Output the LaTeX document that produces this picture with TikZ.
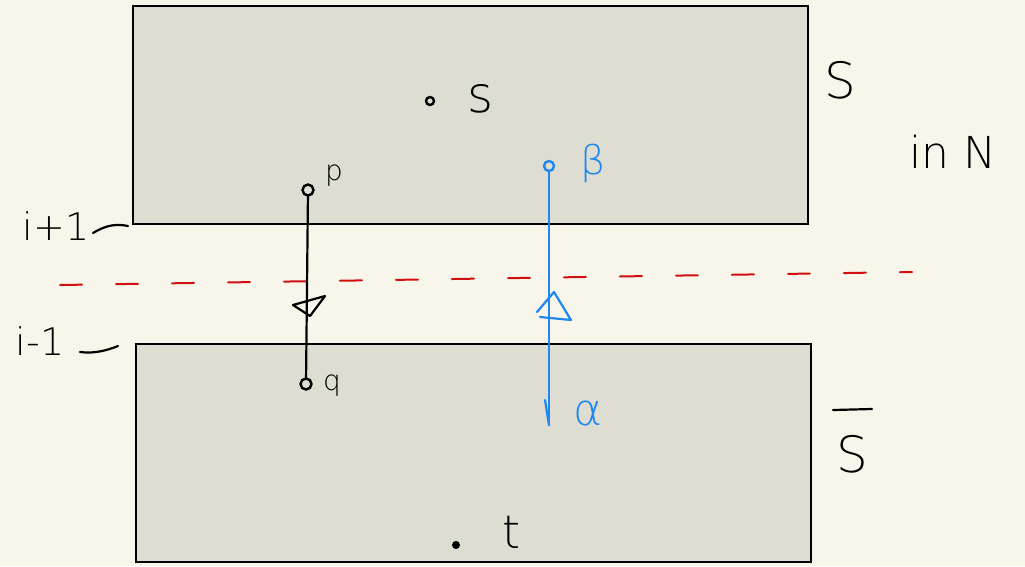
\documentclass[tikz,border=0pt]{standalone}
\usepackage{fontspec}
\setmainfont{DejaVu Sans}
\newfontfamily\lbl{DejaVu Sans ExtraLight}
\begin{document}
\begin{tikzpicture}[x=1pt,y=-1pt,
  box/.style={draw=black, line width=2pt, fill=boxgray},
  hand/.style={font=\lbl\fontsize{38}{38}\selectfont, inner sep=0pt, text=black},
  handb/.style={hand, text=blueline},
  pt/.style={circle, draw=black, line width=2.4pt, minimum size=11pt, inner sep=0pt},
  bpt/.style={circle, draw=blueline, line width=2.4pt, minimum size=10pt, inner sep=0pt},
  stroke/.style={line width=2.2pt, line cap=round, line join=round}]
\definecolor{bg}{HTML}{F8F6EA}
\definecolor{boxgray}{HTML}{DDDDD2}
\definecolor{blueline}{HTML}{1E88F0}
\definecolor{redline}{HTML}{D01010}
\useasboundingbox[fill=bg] (0,0) rectangle (1025,566);
% boxes
\draw[box] (133,6) rectangle (808,224);
\draw[box] (136,344) rectangle (811,562);
% red dashed separator
\coordinate (r1) at (60,285);
\coordinate (r2) at (912,272);
\draw[redline, line width=2pt, dash pattern=on 22pt off 34pt, line cap=round] (r1) -- (r2);
% points
\node[pt, minimum size=8pt] (s) at (430,101) {};
\node[hand, font=\lbl\fontsize{50}{50}\selectfont] (slab) at (481,99) {s};
\node[pt] (p) at (308,190) {};
\node[hand, font=\lbl\fontsize{28}{28}\selectfont] (plab) at (334,176) {p};
\node[pt] (q) at (306,384) {};
\node[hand, font=\lbl\fontsize{28}{28}\selectfont] (qlab) at (332,386) {q};
\node[circle, fill=black, minimum size=8pt, inner sep=0pt] (t) at (456,545) {};
\node[hand, font=\lbl\fontsize{46}{46}\selectfont] (tlab) at (512,532) {t};
% black path with triangle
\draw[stroke] (p) -- (q);
\draw[stroke] (293,305) -- (325,296) -- (310,316) -- cycle;
% blue path
\node[bpt] (a) at (549,166) {};
\coordinate (bend) at (549,425);
\draw[stroke, blueline] (a) -- (bend);
\draw[stroke, blueline] (554,292) -- (537,312);
\draw[stroke, blueline] (554,292) -- (571,320) -- (540,317);
\draw[stroke, blueline] (545,400) -- (549,425);
\node[handb] (beta) at (593,163) {\fontsize{40}{40}\selectfont β};
\node[handb] (alpha) at (588,413) {\fontsize{44}{44}\selectfont α};
% right labels
\node[hand, font=\lbl\fontsize{50}{50}\selectfont] (S) at (840,80) {S};
\node[hand, font=\lbl\fontsize{44}{44}\selectfont] (inN) at (953,152) {in N};
\node[hand, font=\lbl\fontsize{50}{50}\selectfont] (Sbar) at (852,454) {S};
\draw[stroke] (833,410) -- (872,409);
% left labels
\node[hand] (ip1) at (56,226) {i+1};
\draw[stroke] (93,233) .. controls (108,224) and (118,224) .. (128,226);
\node[hand] (im1) at (40,341) {i-1};
\draw[stroke] (80,352) .. controls (95,354) and (108,350) .. (118,346);
\end{tikzpicture}
\end{document}
